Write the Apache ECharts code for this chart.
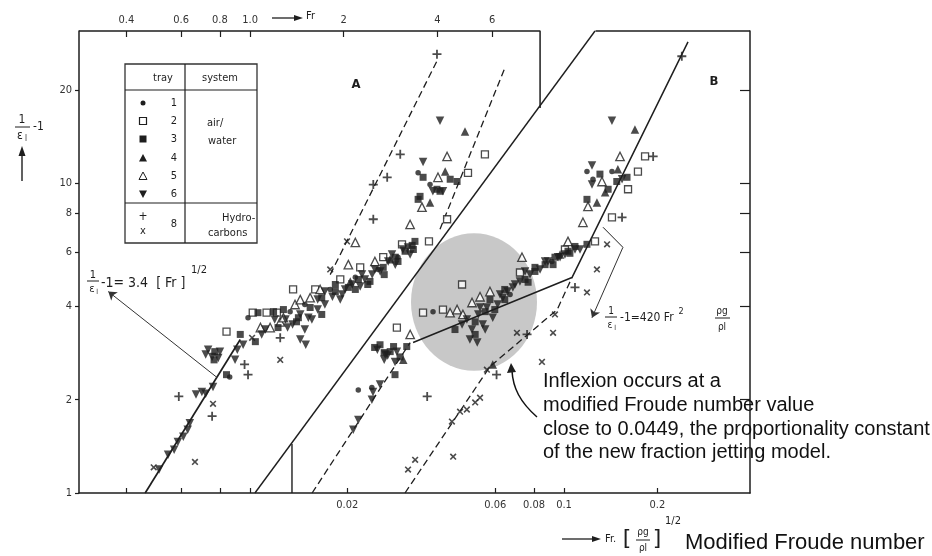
<!DOCTYPE html>
<html><head><meta charset="utf-8">
<script src="https://cdn.jsdelivr.net/npm/echarts@6/dist/echarts.min.js"></script>
<style>html,body{margin:0;padding:0;background:#fff}#c{width:932px;height:556px}</style>
</head><body><div id="c"></div>
<script>
// ---------- axis ticks ----------
const frTicks = [0.4, 0.6, 0.8, 1.0, 2, 4, 6];
const frTickLabels = ['0.4', '0.6', '0.8', '1.0', '2', '4', '6'];
const frBottomTicks = [0.4, 0.6, 0.8, 1.0];
const mfrTicks = [0.02, 0.06, 0.08, 0.1, 0.2];
const mfrTickLabels = ['0.02', '0.06', '0.08', '0.1', '0.2'];
const yTicks = [1, 2, 4, 6, 8, 10, 20];
const yTickLabels = ['1', '2', '4', '6', '8', '10', '20'];
const yRightTicks = [2, 4, 6, 8, 10, 20];
const FR_MIN = 0.2818, FR_MAX = 40.5;
const MFR_MIN = 0.002726, MFR_MAX = 0.3981;
const Y_MIN = 1, Y_MAX = 31;

// ---------- Part A : 1/eps-1 vs Fr ----------
const aTray1 = [[0.985,3.68],[1.345,3.85],[1.50,4.06],[1.81,4.54],[2.18,4.97],[2.58,5.27],[2.99,5.77],[0.86,2.37],[3.47,10.8],[3.79,9.90]];
const aTray2 = [[1.02,3.82],[1.13,3.82],[1.22,3.82],[0.84,3.32],[1.375,4.54],[1.62,4.54],[1.95,4.89],[2.26,5.35],[2.68,5.77],[3.08,6.35],[3.76,6.49],[4.30,7.65],[5.02,10.8],[5.69,12.4]];
const aTray3 = [[1.06,3.82],[1.19,3.85],[0.93,3.25],[1.28,3.91],[1.43,3.68],[1.56,3.97],[1.70,4.27],[1.88,4.47],[2.07,4.61],[2.23,4.89],[2.43,4.82],[2.68,5.35],[2.93,5.77],[3.15,6.03],[3.32,6.30],[3.39,6.49],[0.84,2.41],[0.77,2.86],[3.60,10.45],[3.99,9.56],[4.40,10.3],[4.63,10.13],[3.47,8.87],[3.52,9.07],[4.08,9.42],
  [1.88,4.71],[2.18,4.54],[2.39,4.71],[2.70,5.07],[2.99,5.59],[3.35,6.11],[1.70,3.77],[1.41,3.57],[1.23,3.42],[1.04,3.08],[0.766,2.69]];
const aTray4 = [[2.10,4.82],[2.82,5.68],[4.24,10.9],[3.79,8.67],[4.91,14.7]];
const aTray5 = [[1.08,3.42],[1.16,3.42],[1.25,3.57],[1.28,3.68],[1.395,4.06],[1.45,4.21],[1.56,4.27],[1.68,4.54],[2.07,5.46],[2.18,6.44],[2.52,5.59],[3.27,7.36],[4.02,10.45],[4.30,12.2],[3.57,8.37]];
const aTray6 = [[0.67,2.08],[0.70,2.12],[0.72,2.09],[0.63,1.60],[0.64,1.68],[0.61,1.52],[0.57,1.38],[0.51,1.19],[0.76,2.20],[0.72,2.80],[0.755,2.75],[0.79,2.73],[0.895,2.69],[0.91,2.90],[0.95,3.01],[1.12,3.37],[1.20,3.63],[1.30,3.63],[1.37,3.50],[1.45,3.77],[1.50,3.37],[1.58,3.63],[1.65,4.21],[1.74,4.06],[1.84,4.30],[1.95,4.21],[2.02,4.54],[2.13,4.71],[2.26,4.64],[2.34,4.89],[2.47,5.07],[2.62,5.19],[2.78,5.59],[2.93,5.46],[3.10,6.11],[3.27,5.89],[1.45,3.13],[1.51,3.01],[3.60,11.7],[3.87,9.42],[4.17,9.42],[4.08,15.9],
  [1.74,4.47],[1.98,4.37],[2.29,5.07],[2.52,5.27],[2.86,5.89],[3.22,6.20],[1.65,3.91],[1.54,3.68],[1.32,3.42],[1.09,3.25],[0.733,2.90],[0.80,2.86],[0.545,1.33],[0.586,1.46]];
const aPlus = [[0.59,2.05],[0.755,1.77],[0.96,2.60],[0.985,2.41],[1.25,3.17],[2.49,7.65],[2.49,9.90],[2.76,10.45],[3.04,12.4],[3.99,26.1]];
const aCross = [[0.49,1.21],[0.665,1.26],[0.76,1.94],[1.015,3.17],[1.25,2.69],[1.81,5.27],[2.05,6.49]];
const aSolidLine = [[0.46,1.0],[0.93,3.13]];
const aDashLine1 = [[1.81,5.07],[4.02,25.2]];
const aDashLine2 = [[4.08,7.10],[6.61,23.7]];
const aArrow = [[0.783,2.36],[0.35,4.47]];
const frameTopA = [[FR_MIN,Y_MAX],[8.56,Y_MAX],[8.56,17.5]];
const frameTopB = [[12.9,Y_MAX],[FR_MAX,Y_MAX]];

// ---------- Part B : 1/eps-1 vs modified Fr ----------
const bTray1 = [[0.0217,2.15],[0.0240,2.19],[0.0378,3.85],[0.0670,4.37],[0.0914,5.59],[0.1186,10.9],[0.1428,10.9],[0.1240,10.3]];
const bTray2 = [[0.0289,3.42],[0.0351,3.82],[0.0407,3.91],[0.0469,4.71],[0.0721,5.15],[0.1259,6.49],[0.1428,7.76],[0.1826,12.2],[0.1732,10.9],[0.1609,9.56],[0.1007,6.11]];
const bTray3 = [[0.0245,2.95],[0.0263,2.84],[0.0282,2.97],[0.0296,2.75],[0.0285,2.41],[0.0517,3.57],[0.0557,3.85],[0.0598,3.91],[0.0644,4.21],[0.0749,4.89],[0.0806,5.19],[0.0869,5.46],[0.0935,5.77],[0.1030,6.03],[0.1085,6.25],[0.1186,6.35],[0.1597,10.45],[0.1480,10.13],[0.1388,9.56],[0.1186,8.87],
  [0.0255,3.01],[0.0275,2.86],[0.0311,2.97],[0.0806,5.35],[0.0922,5.46],[0.1045,5.94],[0.0766,4.79],[0.0644,4.54],[0.0577,4.21],[0.0445,3.37],[0.0517,3.25],[0.1306,10.7]];
const bTray4 = [[0.0303,2.69],[0.1492,11.1],[0.1694,14.9],[0.1357,9.35],[0.1277,8.67],[0.0971,5.89],[0.0589,2.60]];
const bTray5 = [[0.0429,3.82],[0.0452,3.91],[0.0472,3.77],[0.0505,4.12],[0.0536,4.30],[0.0577,4.47],[0.0732,5.77],[0.1030,6.49],[0.1151,7.48],[0.1195,8.42],[0.1326,10.13],[0.1516,12.2],[0.0319,3.25]];
const bTray6 = [[0.0209,1.60],[0.0217,1.72],[0.0240,2.00],[0.0242,2.12],[0.0255,2.24],[0.0265,2.80],[0.0250,2.90],[0.0270,2.78],[0.0289,2.86],[0.0486,3.63],[0.0505,3.37],[0.0529,3.77],[0.0547,3.50],[0.0564,3.97],[0.0589,3.68],[0.0611,4.06],[0.0635,4.27],[0.0497,3.13],[0.0525,3.06],[0.0658,4.47],[0.0684,4.61],[0.0721,4.82],[0.0777,5.07],[0.0837,5.27],[0.0888,5.59],[0.0957,5.77],[0.1007,5.89],[0.1085,6.11],[0.1428,15.9],[0.1231,11.4],[0.1231,9.90],
  [0.0749,5.19],[0.0869,5.59],[0.0971,5.77],[0.1126,6.11],[0.0695,4.71],[0.0536,3.97],[0.0622,4.37],[0.0469,3.50],[0.0557,3.37],[0.0263,2.69],[0.0285,2.65],[0.1539,10.3]];
const bPlus = [[0.0362,2.05],[0.0606,2.41],[0.0760,3.25],[0.1085,4.61],[0.1539,7.76],[0.1939,12.2],[0.2399,25.7]];
const bCross = [[0.0314,1.19],[0.0331,1.28],[0.0439,1.31],[0.0435,1.70],[0.0462,1.83],[0.0486,1.86],[0.0517,1.96],[0.0536,2.03],[0.0564,2.50],[0.0705,3.29],[0.0849,2.65],[0.0922,3.29],[0.0935,3.77],[0.1186,4.44],[0.1277,5.27],[0.1377,6.35]];
const bSolidLine = [[0.0326,3.06],[0.1061,4.96],[0.2512,28.6]];
const bDashLine1 = [[0.0154,1.0],[0.0319,3.06]];
const bDashLine2 = [[0.0307,1.0],[0.0577,2.56],[0.0951,3.91],[0.1061,4.96]];
const separatorLine = [[0.01007,Y_MIN],[0.1259,Y_MAX]];
const frameBottomStep = [[0.01326,Y_MIN],[0.01326,1.44]];
const bBracket = [[0.1336,7.21],[0.1549,6.21]];
const bBracketArrow = [[0.1549,6.21],[0.1231,3.68]];

// ---------- build ----------
const INK = '#1e1e1e';
const F = '"Liberation Sans Narrow","DejaVu Sans Condensed","Liberation Sans",sans-serif';
const chart = echarts.init(document.getElementById('c'), null, {renderer:'canvas', width:932, height:556});

function fmt(ticks, labels) {
  return function (v) {
    for (let i = 0; i < ticks.length; i++) if (Math.abs(Math.log10(v) - Math.log10(ticks[i])) < 1e-4) return labels[i];
    return '';
  };
}
const PLUS = 'path://M4,0H6V4H10V6H6V10H4V6H0V4H4Z';
function scat(data, xi, symbol, size, open, rotate) {
  return {type:'scatter', xAxisIndex:xi, yAxisIndex:0, data:data, symbol:symbol, symbolSize:size,
    symbolRotate:rotate || 0, silent:true, z:3,
    itemStyle: open ? {color:'#fff', borderColor:INK, borderWidth:1.3} : {color:INK}};
}
function ln(data, xi, dashed, w, extra) {
  return Object.assign({type:'line', xAxisIndex:xi, yAxisIndex:0, data:data, symbol:'none', silent:true, clip:false, z:2,
    lineStyle:{color:INK, width:w || 1.3, type: dashed ? [7,4] : 'solid'}}, extra || {});
}
function arrowML(seg, xi) {
  return ln([seg[0], seg[0]], xi, false, 1, {markLine:{silent:true, symbol:['none','arrow'], symbolSize:8, label:{show:false},
    lineStyle:{color:'#333', width:1, type:'solid'}, data:[[{coord:seg[0]},{coord:seg[1]}]]}});
}

const series = [
  ln(separatorLine, 0, false, 1.4),
  ln(frameBottomStep, 0, false, 1.4),
  ln(frameTopA, 1, false, 1.5),
  ln(frameTopB, 1, false, 1.5),
  ln(aSolidLine, 1, false, 1.7),
  ln(aDashLine1, 1, true, 1.3),
  ln(aDashLine2, 1, true, 1.3),
  ln(bSolidLine, 0, false, 1.5),
  ln(bDashLine1, 0, true, 1.3),
  ln(bDashLine2, 0, true, 1.3),
  ln(bBracket, 0, false, 1),
  arrowML(aArrow, 1),
  arrowML(bBracketArrow, 0),
  scat(aTray2, 1, 'rect', 7, true),
  scat(aTray5, 1, 'triangle', 8.5, true),
  scat(aTray1, 1, 'circle', 5.5, false),
  scat(aTray3, 1, 'rect', 7, false),
  scat(aTray4, 1, 'triangle', 8.5, false),
  scat(aTray6, 1, 'triangle', 8.5, false, 180),
  scat(aPlus, 1, PLUS, 9, false),
  scat(aCross, 1, PLUS, 8, false, 45),
  scat(bTray2, 0, 'rect', 7, true),
  scat(bTray5, 0, 'triangle', 8.5, true),
  scat(bTray1, 0, 'circle', 5.5, false),
  scat(bTray3, 0, 'rect', 7, false),
  scat(bTray4, 0, 'triangle', 8.5, false),
  scat(bTray6, 0, 'triangle', 8.5, false, 180),
  scat(bPlus, 0, PLUS, 9, false),
  scat(bCross, 0, PLUS, 8, false, 45)
];

// ---------- graphic decorations (text, legend table, highlight) ----------
const G = [];
function txt(x, y, s, size, opt) {
  G.push({type:'text', z:10, silent:true, style:Object.assign({x:x, y:y, text:s, fontSize:size, fontFamily:F, fill:INK, align:'center', verticalAlign:'middle'}, opt || {})});
}
function seg(x1, y1, x2, y2, w) { G.push({type:'line', z:10, silent:true, shape:{x1:x1,y1:y1,x2:x2,y2:y2}, style:{stroke:INK, lineWidth:w || 1}}); }
function poly(pts, open) { G.push({type:'polygon', z:10, silent:true, shape:{points:pts}, style: open ? {fill:'#fff', stroke:INK, lineWidth:1} : {fill:INK}}); }

G.push({type:'circle', z:1, silent:true, x:474, y:302, scaleY:1.09, shape:{cx:0, cy:0, r:63}, style:{fill:'#c8c8c8'}});

// region labels
txt(356, 85, 'A', 13, {fontWeight:'bold'});
txt(714, 82, 'B', 13, {fontWeight:'bold'});

// y-axis title
txt(22, 120, '1', 12); seg(15, 127, 30, 127, 1); txt(20, 136, 'ε', 12); txt(26, 139, 'l', 8); txt(33, 127, '-1', 12, {align:'left'});
seg(22, 181, 22, 153, 1.4); poly([[22,146],[18.5,156],[25.5,156]]);

// top title
seg(272, 18, 296, 18, 1.3); poly([[303,18],[294,15],[294,21]]); txt(306, 16, 'Fr', 11, {align:'left'});

// bottom title
seg(562, 539, 594, 539, 1.3); poly([[601,539],[592,536],[592,542]]); txt(605, 539, 'Fr.', 11, {align:'left'});
txt(627, 539, '[', 22, {fontFamily:'DejaVu Sans'}); txt(643, 532, 'ρg', 10); seg(636, 540, 650, 540, 1); txt(643, 548, 'ρl', 10); txt(657, 539, ']', 22, {fontFamily:'DejaVu Sans'});
txt(673, 521, '1/2', 11);
txt(685, 543, 'Modified Froude number', 22, {align:'left', fontFamily:'"Liberation Sans",Arial,sans-serif', fill:'#111'});

// equation A
txt(93, 275, '1', 11); seg(87, 281, 99, 281, 1); txt(92, 289, 'ε', 11); txt(97, 292, 'l', 7);
txt(101, 283, '-1= 3.4  [ Fr ]', 14, {align:'left'}); txt(199, 270, '1/2', 11);

// equation B
txt(611, 311, '1', 10); seg(605, 317, 617, 317, 1); txt(610, 325, 'ε', 10); txt(615, 328, 'l', 7);
txt(620, 318, '-1=420 Fr', 12, {align:'left'}); txt(681, 312, '2', 9);
txt(722, 311, 'ρg', 10); seg(715, 318, 730, 318, 1); txt(722, 327, 'ρl', 10);

// inflexion note
const noteF = '"Liberation Sans",Arial,sans-serif';
txt(543, 381, 'Inflexion occurs at a', 20, {align:'left', fontFamily:noteF, fill:'#111'});
txt(543, 405, 'modified Froude number value', 20, {align:'left', fontFamily:noteF, fill:'#111'});
txt(543, 429, 'close to 0.0449, the proportionality constant', 20, {align:'left', fontFamily:noteF, fill:'#111'});
txt(543, 452, 'of the new fraction jetting model.', 20, {align:'left', fontFamily:noteF, fill:'#111'});
G.push({type:'bezierCurve', z:10, silent:true, shape:{x1:537, y1:417, x2:512, y2:371, cpx1:520, cpy1:402, cpx2:513, cpy2:388}, style:{stroke:'#111', lineWidth:1.5, fill:null}});
poly([[511,363],[507,373],[516,372]]);

// legend table
G.push({type:'rect', z:10, silent:true, shape:{x:125, y:64, width:132, height:179}, style:{fill:'#fff', stroke:'#333', lineWidth:1.3}});
seg(125, 90, 257, 90, 1.2); seg(185, 64, 185, 243, 1.2); seg(125, 203, 257, 203, 1.2);
txt(163, 78, 'tray', 11); txt(220, 78, 'system', 11);
const rowsY = [103, 121, 139, 158, 176, 194];
['1','2','3','4','5','6'].forEach((s, i) => txt(174, rowsY[i], s, 11));
G.push({type:'circle', z:11, silent:true, shape:{cx:143, cy:103, r:2.5}, style:{fill:INK}});
G.push({type:'rect', z:11, silent:true, shape:{x:139.5, y:117.5, width:7, height:7}, style:{fill:'#fff', stroke:INK, lineWidth:1.2}});
G.push({type:'rect', z:11, silent:true, shape:{x:139.5, y:135.5, width:7, height:7}, style:{fill:INK}});
poly([[143,154],[139,161.5],[147,161.5]]);
poly([[143,172],[139,179.5],[147,179.5]], true);
poly([[143,198],[139,190.5],[147,190.5]]);
txt(143, 217, '+', 12); txt(143, 231, 'x', 11); txt(174, 224, '8', 11);
txt(207, 123, 'air/', 11, {align:'left'}); txt(208, 141, 'water', 11, {align:'left'});
txt(222, 218, 'Hydro-', 11, {align:'left'}); txt(208, 233, 'carbons', 11, {align:'left'});

const axisLbl = {color:'#333', fontSize:11, fontFamily:F};
const option = {
  animation:false,
  backgroundColor:'#fff',
  grid:{left:79, right:182, top:31, bottom:63, containLabel:false, outerBoundsMode:'none'},
  xAxis:[
    {type:'log', position:'bottom', min:MFR_MIN, max:MFR_MAX,
      axisLine:{show:true, onZero:false, lineStyle:{color:INK, width:1.5}},
      axisTick:{show:true, inside:true, length:5, customValues:mfrTicks, lineStyle:{color:INK, width:1.2}},
      axisLabel:Object.assign({show:true, customValues:mfrTicks, formatter:fmt(mfrTicks, mfrTickLabels), margin:7}, axisLbl),
      splitLine:{show:false}, minorTick:{show:false}},
    {type:'log', position:'top', min:FR_MIN, max:FR_MAX,
      axisLine:{show:false, onZero:false},
      axisTick:{show:true, inside:true, length:6, customValues:frTicks, lineStyle:{color:INK, width:1.2}},
      axisLabel:Object.assign({show:true, customValues:frTicks, formatter:fmt(frTicks, frTickLabels), margin:5}, axisLbl),
      splitLine:{show:false}, minorTick:{show:false}},
    {type:'log', position:'bottom', min:FR_MIN, max:FR_MAX,
      axisLine:{show:false, onZero:false},
      axisTick:{show:true, inside:true, length:5, customValues:frBottomTicks, lineStyle:{color:INK, width:1.2}},
      axisLabel:{show:false}, splitLine:{show:false}, minorTick:{show:false}}
  ],
  yAxis:[
    {type:'log', position:'left', min:Y_MIN, max:Y_MAX,
      axisLine:{show:true, onZero:false, lineStyle:{color:INK, width:1.5}},
      axisTick:{show:true, length:4, customValues:yTicks, lineStyle:{color:INK, width:1.2}},
      axisLabel:Object.assign({show:true, customValues:yTicks, formatter:fmt(yTicks, yTickLabels), margin:7}, axisLbl),
      splitLine:{show:false}, minorTick:{show:false}},
    {type:'log', position:'right', min:Y_MIN, max:Y_MAX,
      axisLine:{show:true, onZero:false, lineStyle:{color:INK, width:1.5}},
      axisTick:{show:true, inside:true, length:10, customValues:yRightTicks, lineStyle:{color:INK, width:1.2}},
      axisLabel:{show:false}, splitLine:{show:false}, minorTick:{show:false}}
  ],
  series:series,
  graphic:{elements:G}
};
chart.setOption(option);
</script>
</body></html>
